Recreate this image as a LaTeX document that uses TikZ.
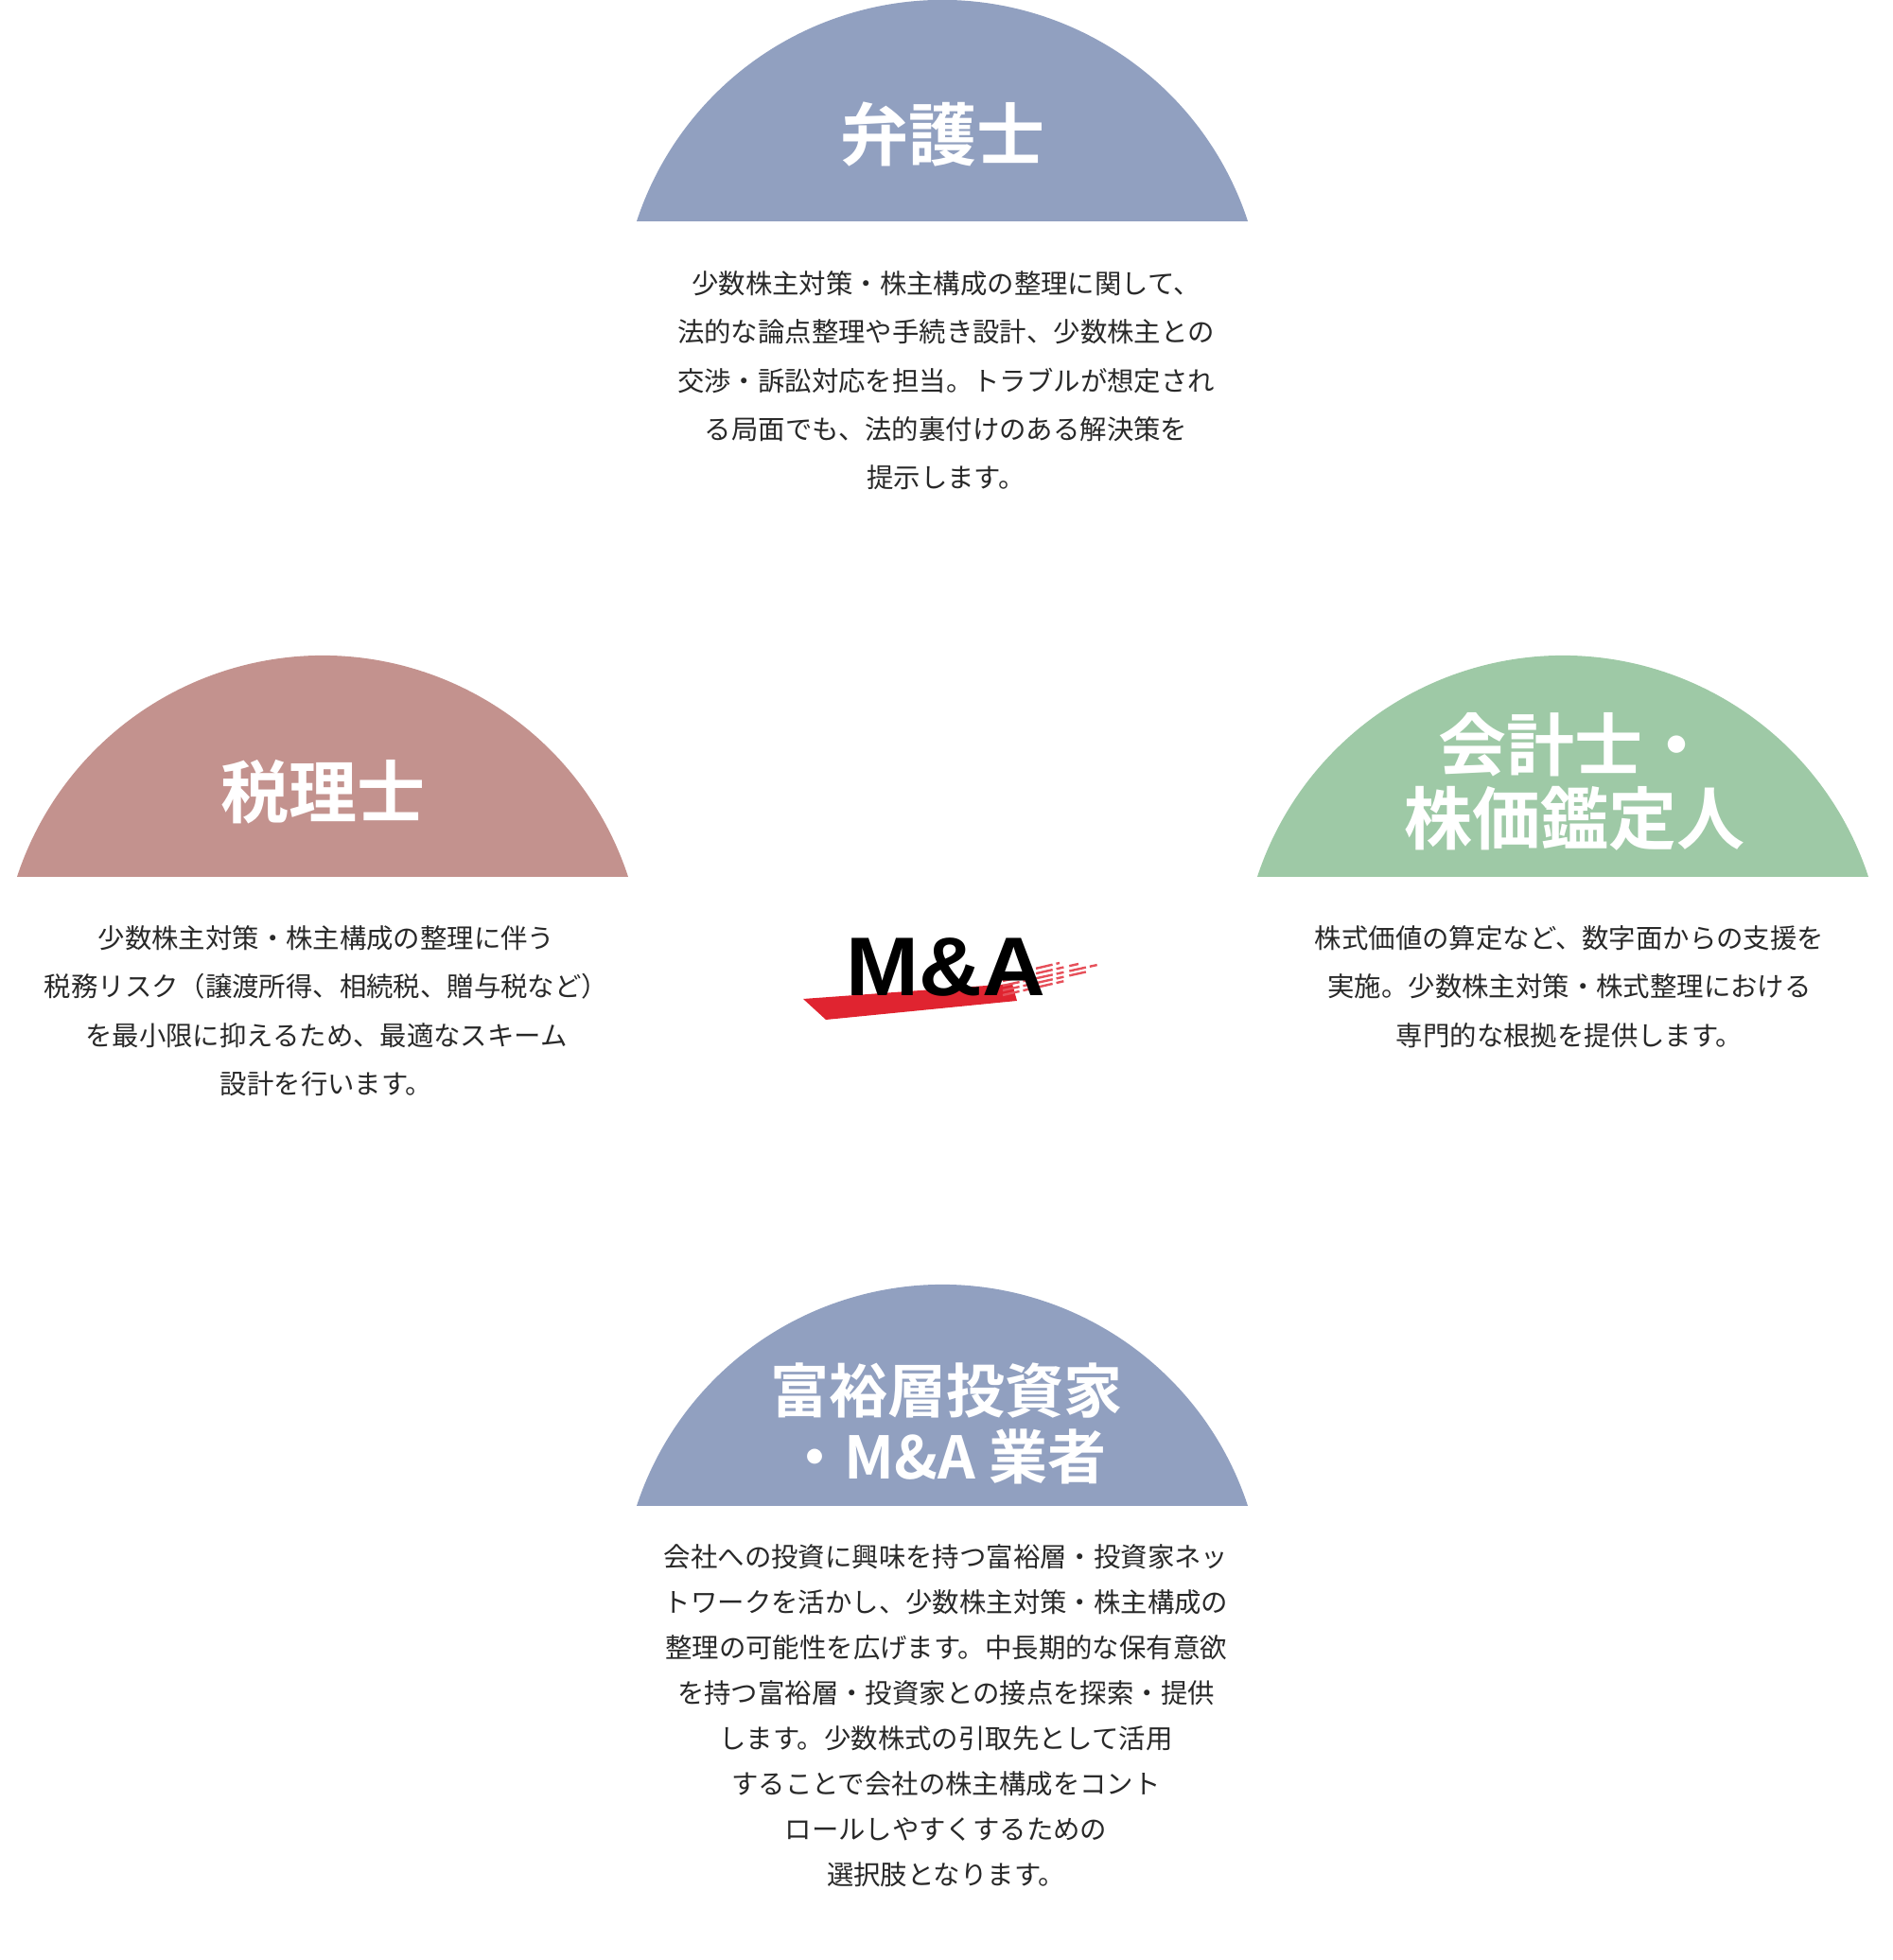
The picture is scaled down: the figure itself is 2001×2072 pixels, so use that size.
\documentclass[tikz,border=0pt]{standalone}
\usepackage{fontspec}
\setmainfont{Noto Sans CJK JP}[BoldFont={Noto Sans CJK JP Bold}]
\newfontfamily\logofont{Liberation Sans}
\usetikzlibrary{positioning}
\tikzset{
    titlenode/.style = {draw=none, fill=none, text=white, inner sep=0em, align=center,
      font=\bfseries\fontsize{36}{36}\selectfont},
    bodynode/.style = {draw=none, fill=none, text=txtgray, inner sep=0em, anchor=north,
      align=center, font=\fontsize{14.2}{25.7}\selectfont},
    every text node part/.style={align=center}
}
\definecolor{domeblue}{RGB}{145, 160, 192}
\definecolor{domered}{RGB}{195, 146, 142}
\definecolor{domegreen}{RGB}{158, 201, 166}
\definecolor{txtgray}{RGB}{40, 40, 40}
\definecolor{logored}{RGB}{224, 36, 48}
\newcommand{\dome}[3]{\fill[#3] (#1,#2) ++(18.2:340) arc[start angle=18.2, end angle=161.8, radius=340] -- cycle;}

\begin{document}
\begin{tikzpicture}[x=0.5pt, y=0.5pt]
\useasboundingbox (0,0) rectangle (2001,2072);

% domes (centre of circle below the flat side)
\dome{996}{1732}{domeblue}
\dome{341}{1039}{domered}
\dome{1652}{1039}{domegreen}
\dome{996}{374}{domeblue}

\node[titlenode, name=lawyer] at (996,1930) {弁護士};
\node[titlenode, name=tax] at (341,1235) {税理士};
\node[titlenode, name=cpa, font=\bfseries\fontsize{36}{39}\selectfont] at (1664,1246) {会計士・\\株価鑑定人};
\node[titlenode, name=investor, font=\bfseries\fontsize{31}{35}\selectfont] at (1000,567) {富裕層投資家\\・M\&A 業者};

\node[bodynode, name=lawyertext] at (1000,1786) {少数株主対策・株主構成の整理に関して、\\法的な論点整理や手続き設計、少数株主との\\交渉・訴訟対応を担当。トラブルが想定され\\る局面でも、法的裏付けのある解決策を\\提示します。};
\node[bodynode, name=taxtext] at (345,1094) {少数株主対策・株主構成の整理に伴う\\税務リスク（譲渡所得、相続税、贈与税など）\\を最小限に抑えるため、最適なスキーム\\設計を行います。};
\node[bodynode, name=cpatext] at (1659,1094) {株式価値の算定など、数字面からの支援を\\実施。少数株主対策・株式整理における\\専門的な根拠を提供します。};
\node[bodynode, name=investortext, font=\fontsize{14.2}{24}\selectfont] at (1000,440) {会社への投資に興味を持つ富裕層・投資家ネッ\\トワークを活かし、少数株主対策・株主構成の\\整理の可能性を広げます。中長期的な保有意欲\\を持つ富裕層・投資家との接点を探索・提供\\します。少数株式の引取先として活用\\することで会社の株主構成をコント\\ロールしやすくするための\\選択肢となります。};

% logo
\fill[logored] (849,1016) -- (873,994) -- (1075,1014) -- (1070,1032) -- cycle;
\foreach \dy/\len in {0/1130,5/1150,10/1160,15/1140,20/1120} {
  \draw[logored!80, line width=1.2, dash pattern=on 9 off 2 on 4 off 3] (1060,1020+\dy) -- (\len,1036+\dy+0.2*\len-0.2*1130);
}
\node[name=logo, inner sep=0em, font=\logofont\bfseries\fontsize{44}{44}\selectfont, scale=1, xscale=1.05]
  at (1000,1050) {M\&A};
\end{tikzpicture}
\end{document}
